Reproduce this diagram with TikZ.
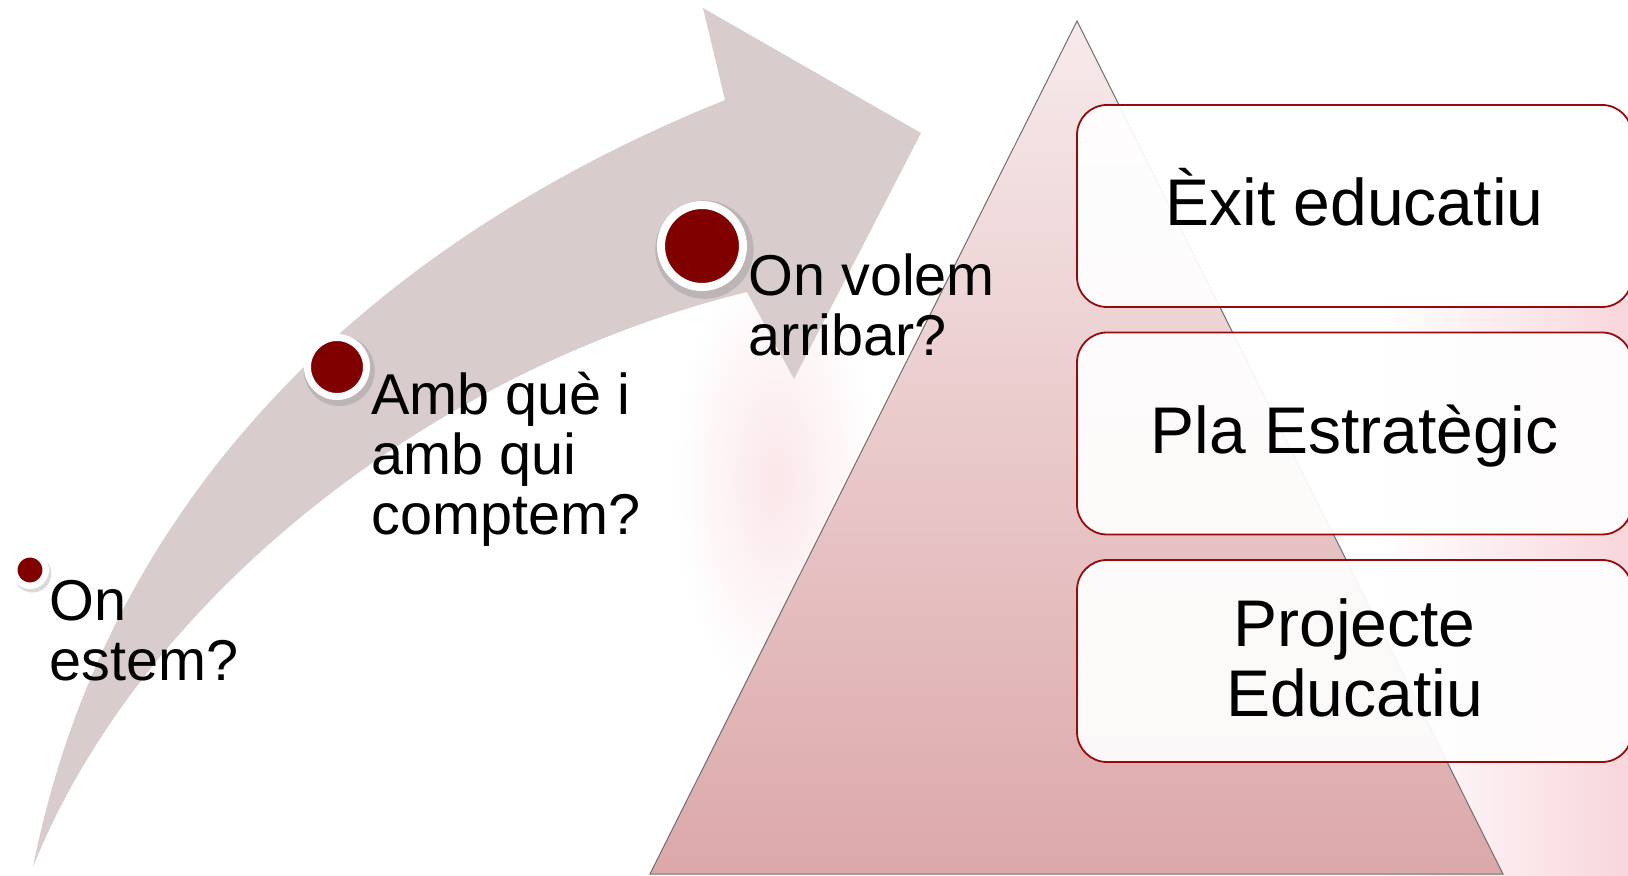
\documentclass[tikz,border=0pt]{standalone}
\usepackage{fontspec}
\setmainfont{Liberation Sans}
\usetikzlibrary{positioning}
\usetikzlibrary{shadows}
\definecolor{arrowgray}{RGB}{216,204,205}
\definecolor{dotred}{RGB}{128,0,0}
\definecolor{boxred}{RGB}{150,10,10}
\definecolor{pyrtop}{RGB}{247,234,235}
\definecolor{pyrbot}{RGB}{220,168,170}
\definecolor{pyrline}{RGB}{110,110,110}
\definecolor{bgpink}{RGB}{248,214,219}
\tikzset{
  stepdot/.style={circle, fill=dotred, draw=white, inner sep=0pt,
    drop shadow={shadow xshift=1pt, shadow yshift=-1.5pt, shadow scale=1.2, opacity=0.3}},
  steplabel/.style={align=left, inner sep=0pt, anchor=base west,
    font=\fontsize{28.8}{30}\selectfont},
  levelbox/.style={draw=boxred, line width=0.9pt, fill=white, fill opacity=0.92,
    text opacity=1, rounded corners=15pt, minimum width=277.5pt, minimum height=101pt,
    align=center, inner sep=0pt, text height=20pt, text depth=0pt,
    font=\fontsize{33}{34.8}\selectfont}
}

\begin{document}
\begin{tikzpicture}[x=0.5pt,y=-0.5pt]
\useasboundingbox (0,0) rectangle (1628,876);
% background glow
\shade[inner color=bgpink, outer color=white, opacity=0.6] (775,480) ellipse [x radius=50pt, y radius=110pt];
\shade[left color=white, right color=bgpink] (1380,300) rectangle (1628,876);
% curved arrow
\fill[arrowgray] (33,867) .. controls (110,480) and (390,235) .. (725,100) -- (703,8) -- (921,133)
  -- (794,379) -- (747,292) .. controls (430,370) and (140,600) .. (33,867) -- cycle;
% pyramid
\shadedraw[top color=pyrtop, bottom color=pyrbot, draw=pyrline, line width=0.5pt]
  (1077,21) -- (1503,874) -- (650,874) -- cycle;
% steps
\node[stepdot, minimum size=15.75pt, line width=3.25pt] (dot1) at (30,570) {};
\node[stepdot, minimum size=29.5pt, line width=3.5pt] (dot2) at (337,367) {};
\node[stepdot, minimum size=41pt, line width=4pt] (dot3) at (702,246) {};
\node[steplabel] (ara) at (49,681) {On\\estem?};
\node[steplabel] (recursos) at (371,535) {Amb què i\\amb qui\\comptem?};
\node[steplabel] (meta) at (748,356) {On volem\\arribar?};
% levels
\node[levelbox] (exit) at (1354.5,206) {Èxit educatiu};
\node[levelbox] (pla) at (1354.5,433.5) {Pla Estratègic};
\node[levelbox, text height=55pt] (projecte) at (1354.5,661) {Projecte\\Educatiu};
\end{tikzpicture}
\end{document}
